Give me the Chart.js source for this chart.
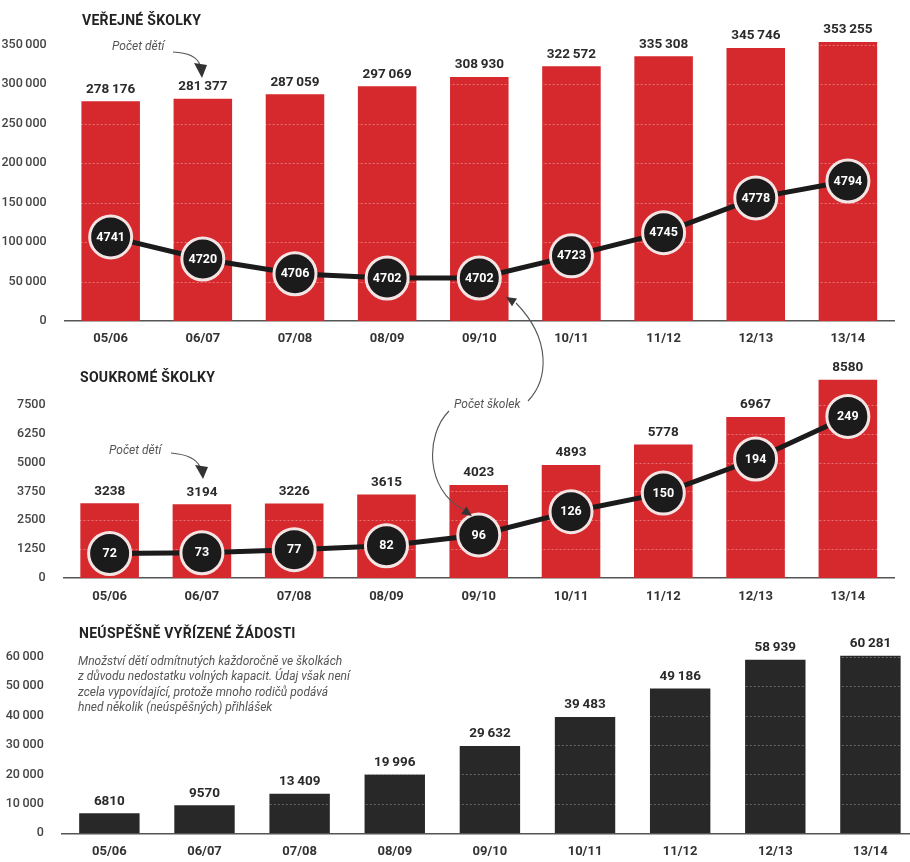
<!DOCTYPE html>
<html lang="cs">
<head>
<meta charset="utf-8">
<title>Veřejné a soukromé školky</title>
<script src="https://cdn.jsdelivr.net/npm/chart.js@4.4.1/dist/chart.umd.min.js"></script>
<style>
  html, body { margin: 0; padding: 0; background: #fff; overflow: hidden; }
  body { width: 910px; height: 862px; position: relative; font-family: Roboto, "Noto Sans", sans-serif; }
  canvas { position: absolute; left: 0; }
  .title { position: absolute; font-weight: 700; font-size: 14px; color: #222; line-height: 16px; letter-spacing: 0.3px; }
  .note { position: absolute; font-style: italic; font-size: 12px; color: #555; line-height: 15.4px; }
  svg { position: absolute; left: 0; top: 0; z-index: 5; }
</style>
</head>
<body>
<canvas id="c1" width="918" height="345" style="top:0"></canvas>
<canvas id="c2" width="918" height="265" style="top:345px"></canvas>
<canvas id="c3" width="918" height="252" style="top:610px"></canvas>

<div class="title" style="left:82px; top:12px">VEŘEJNÉ ŠKOLKY</div>
<div class="title" style="left:80px; top:369px">SOUKROMÉ ŠKOLKY</div>
<div class="title" style="left:79px; top:625px">NEÚSPĚŠNĚ VYŘÍZENÉ ŽÁDOSTI</div>
<div class="note" style="left:78px; top:654px">Množství dětí odmítnutých každoročně ve školkách<br>z důvodu nedostatku volných kapacit. Údaj však není<br>zcela vypovídající, protože mnoho rodičů podává<br>hned několik (neúspěšných) přihlášek</div>

<svg width="910" height="862">
  <g fill="none" stroke="#555" stroke-width="1.1">
    <path d="M173,52 Q196,53 200,65"/>
    <path d="M171,453 Q195,455 200,467"/>
    <path d="M528,401 C548,380 552,340 516,303"/>
    <path d="M449,411 C425,435 425,490 464,510"/>
  </g>
  <g fill="#333">
    <polygon points="194,63 207,65 202,78"/>
    <polygon points="195,465 208,467 203,479"/>
    <polygon points="506,297 517,298.6 512,306.2"/>
    <polygon points="472,516 461.2,514 466.4,506.6"/>
  </g>
  <g font-family="Roboto, 'Noto Sans', sans-serif" font-style="italic" font-size="12" fill="#555" dominant-baseline="middle">
    <text x="112" y="47">Počet dětí</text>
    <text x="109" y="451">Počet dětí</text>
    <text x="454" y="405">Počet školek</text>
  </g>
</svg>

<script>
const seasons = ['05/06', '06/07', '07/08', '08/09', '09/10', '10/11', '11/12', '12/13', '13/14'];

// veřejné školky
const publicChildren = [278176, 281377, 287059, 297069, 308930, 322572, 335308, 345746, 353255];
const publicSchools = [4741, 4720, 4706, 4702, 4702, 4723, 4745, 4778, 4794];
const publicTicks = [0, 50000, 100000, 150000, 200000, 250000, 300000, 350000];

// soukromé školky
const privateChildren = [3238, 3194, 3226, 3615, 4023, 4893, 5778, 6967, 8580];
const privateSchools = [72, 73, 77, 82, 96, 126, 150, 194, 249];
const privateTicks = [0, 1250, 2500, 3750, 5000, 6250, 7500];

// neúspěšně vyřízené žádosti
const rejected = [6810, 9570, 13409, 19996, 29632, 39483, 49186, 58939, 60281];
const rejectedTicks = [0, 10000, 20000, 30000, 40000, 50000, 60000];

const FONT = 'Roboto, "Noto Sans", sans-serif';
const RED = '#d6292d';
const DARK = '#282828';

// 4 digit numbers stay without separator, longer ones get a thin space
function fmt(v) {
    const s = String(v);
    return v >= 10000 ? s.replace(/\B(?=(\d{3})+(?!\d))/g, '\u2009') : s;
}

const labelsPlugin = {
    id: 'labels',
    afterDatasetDraw(chart, args) {
        if (args.meta.type !== 'bar') return;
        // light dotted grid visible only on top of the bars
        const ctx = chart.ctx;
        const y = chart.scales.y;
        const area = chart.chartArea;
        ctx.save();
        ctx.strokeStyle = chart.options.plugins.labels.gridColor;
        ctx.setLineDash([2, 2]);
        ctx.lineWidth = 1;
        y.ticks.forEach(t => {
            if (t.value === 0) return;
            const py = Math.round(y.getPixelForValue(t.value)) + 0.5;
            ctx.beginPath();
            ctx.moveTo(area.left, py);
            ctx.lineTo(area.right, py);
            ctx.stroke();
        });
        ctx.restore();
    },
    afterDatasetsDraw(chart) {
        const ctx = chart.ctx;
        ctx.save();
        ctx.textAlign = 'center';
        ctx.textBaseline = 'middle';
        chart.data.datasets.forEach((ds, i) => {
            const meta = chart.getDatasetMeta(i);
            meta.data.forEach((el, j) => {
                if (meta.type === 'bar') {
                    ctx.fillStyle = '#2a2a2a';
                    ctx.font = 'bold 13.5px ' + FONT;
                    ctx.fillText(fmt(ds.data[j]), el.x, el.y - 12);
                } else {
                    ctx.fillStyle = '#fff';
                    ctx.font = 'bold 12.5px ' + FONT;
                    ctx.fillText(fmt(ds.data[j]), el.x, el.y + 0.5);
                }
            });
        });
        ctx.restore();
    }
};

function lineSet(data) {
    return {
        type: 'line',
        data: data,
        yAxisID: 'y2',
        order: 0,
        borderColor: '#1b1b1b',
        borderWidth: 5,
        tension: 0,
        pointRadius: 21,
        pointBorderWidth: 3,
        pointBorderColor: '#f5e4e4',
        pointBackgroundColor: '#1b1b1b'
    };
}

function barSet(data, color) {
    return {
        type: 'bar',
        data: data,
        yAxisID: 'y',
        order: 1,
        backgroundColor: color,
        barPercentage: 0.635,
        categoryPercentage: 1
    };
}

function makeChart(id, datasets, o) {
    return new Chart(document.getElementById(id), {
        data: { labels: seasons, datasets: datasets },
        options: {
            responsive: false,
            animation: false,
            events: [],
            layout: { padding: { top: o.padTop } },
            plugins: {
                legend: { display: false },
                tooltip: { enabled: false },
                labels: { gridColor: o.gridColor }
            },
            scales: {
                x: {
                    grid: { display: false, drawTicks: false },
                    border: { display: true, color: '#555', width: 1.5 },
                    ticks: { padding: o.xPad, color: '#333', font: { family: FONT, weight: 'bold', size: 13 } },
                    afterFit: s => { s.height = o.xHeight; }
                },
                y: {
                    min: 0,
                    max: o.yMax,
                    grid: { display: false },
                    border: { display: false },
                    ticks: {
                        padding: 10,
                        color: '#444',
                        font: { family: FONT, weight: 500, size: 12.5 },
                        callback: v => fmt(v)
                    },
                    afterBuildTicks: s => { s.ticks = o.ticks.map(v => ({ value: v })); },
                    afterFit: s => { s.width = o.left; }
                },
                y2: { display: false, min: o.y2Min, max: o.y2Max }
            }
        },
        plugins: [labelsPlugin]
    });
}

makeChart('c1', [lineSet(publicSchools), barSet(publicChildren, RED)], {
    padTop: 38.2, xHeight: 24, xPad: 10, left: 64.6,
    yMax: 358000, ticks: publicTicks, y2Min: 4661.2, y2Max: 4929.5,
    gridColor: 'rgba(255,255,255,0.35)'
});

makeChart('c2', [lineSet(privateSchools), barSet(privateChildren, RED)], {
    padTop: 17, xHeight: 32, xPad: 11, left: 63.5,
    yMax: 9050, ticks: privateTicks, y2Min: 40.4, y2Max: 310.2,
    gridColor: 'rgba(255,255,255,0.35)'
});

makeChart('c3', [barSet(rejected, DARK)], {
    padTop: 40.8, xHeight: 28.7, xPad: 11, left: 61.8,
    yMax: 62000, ticks: rejectedTicks,
    gridColor: 'rgba(255,255,255,0.28)'
});
</script>
</body>
</html>
